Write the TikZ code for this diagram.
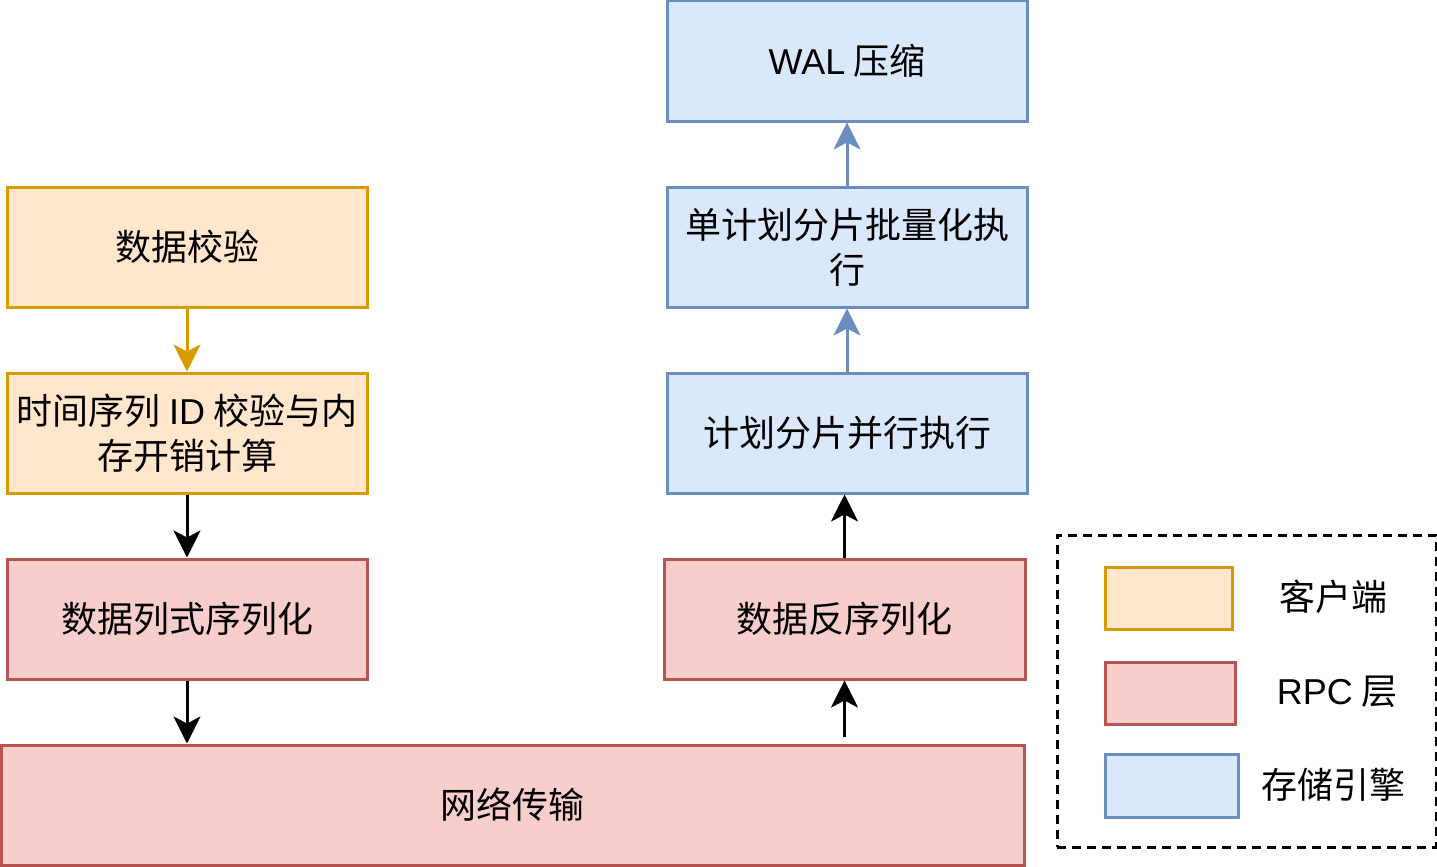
\documentclass[tikz,border=0pt]{standalone}
\usepackage{fontspec}
\setmainfont{Noto Sans CJK SC}
\newfontfamily\lat{Liberation Sans}
\usetikzlibrary{arrows.meta}
\definecolor{yfill}{HTML}{FFE6CC}\definecolor{ydraw}{HTML}{D79B00}
\definecolor{rfill}{HTML}{F8CECC}\definecolor{rdraw}{HTML}{B85450}
\definecolor{bfill}{HTML}{DAE8FC}\definecolor{bdraw}{HTML}{6C8EBF}
\tikzset{
  box/.style={rectangle, line width=3pt, minimum width=360pt, minimum height=120pt, inner sep=0pt, align=center, font=\fontsize{36}{45}\selectfont},
  ybox/.style={box, fill=yfill, draw=ydraw},
  rbox/.style={box, fill=rfill, draw=rdraw},
  bbox/.style={box, fill=bfill, draw=bdraw},
  lbox/.style={rectangle, line width=3pt, inner sep=0pt},
  ltext/.style={font=\fontsize{36}{45}\selectfont, inner sep=0pt},
  conn/.style={line width=3pt, -{Stealth[length=27pt,width=27pt,inset=7pt]}},
}
\begin{document}
\begin{tikzpicture}[x=1pt,y=-1pt]
\useasboundingbox (0,0) rectangle (1437,867);
% left column
\node[ybox] (a) at (187,247) {数据校验};
\node[ybox] (b) at (187,433) {时间序列 {\lat ID} 校验与内\\存开销计算};
\node[rbox] (c) at (187,619) {数据列式序列化};
\node[rbox, minimum width=1023pt] (n) at (512.5,805) {网络传输};
% right column
\node[rbox, minimum width=361pt] (d) at (844.5,619) {数据反序列化};
\node[bbox] (e) at (847,433) {计划分片并行执行};
\node[bbox] (f) at (847,247) {单计划分片批量化执\\行};
\node[bbox] (g) at (847,61) {{\lat WAL} 压缩};
% connectors
\draw[conn, draw=ydraw, fill=ydraw] (a) -- (b);
\draw[conn] (b) -- (c);
\draw[conn] (c.south) -- (c.south |- n.north);
\draw[conn, shorten <=7pt] (n.north -| d.south) -- (d.south);
\draw[conn] (d.north) -- (d.north |- e.south);
\draw[conn, draw=bdraw, fill=bdraw] (e) -- (f);
\draw[conn, draw=bdraw, fill=bdraw] (f) -- (g);
% legend
\node[draw, line width=3pt, dash pattern=on 9pt off 6pt, rectangle, minimum width=379pt, minimum height=312pt, inner sep=0pt] (lg) at (1246.5,691) {};
\node[lbox, fill=yfill, draw=ydraw, minimum width=127pt, minimum height=62pt] (l1) at (1168.5,598) {};
\node[lbox, fill=rfill, draw=rdraw, minimum width=130pt, minimum height=62pt] (l2) at (1170,693) {};
\node[lbox, fill=bfill, draw=bdraw, minimum width=133pt, minimum height=63pt] (l3) at (1171.5,785.5) {};
\node[ltext] (t1) at (1333,597) {客户端};
\node[ltext] (t2) at (1337,692) {{\lat RPC} 层};
\node[ltext] (t3) at (1333,785) {存储引擎};
\end{tikzpicture}
\end{document}
